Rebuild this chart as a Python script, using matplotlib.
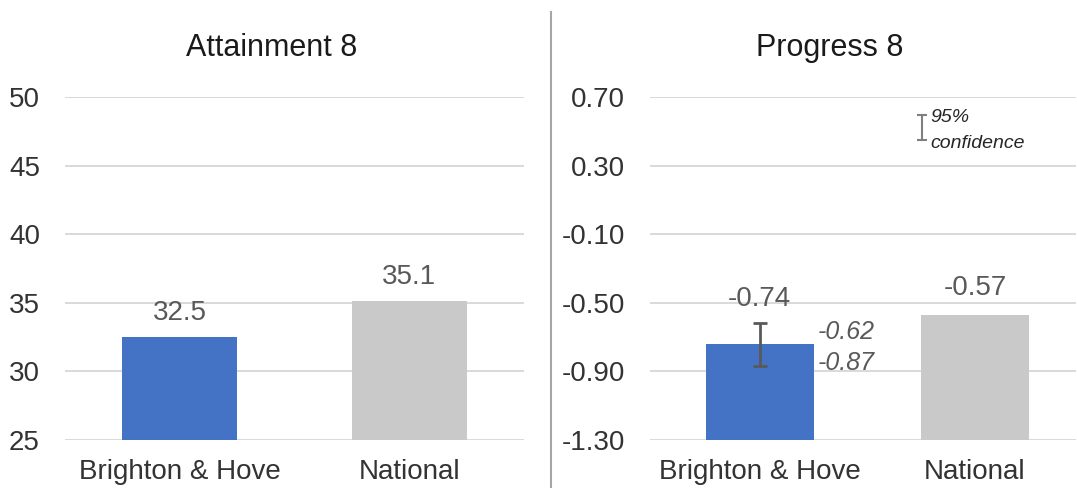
import matplotlib
matplotlib.use("Agg")
import matplotlib.pyplot as plt
from matplotlib.lines import Line2D

plt.rcParams['font.family'] = ['Liberation Sans', 'DejaVu Sans']

# data
areas = ['Brighton & Hove', 'National']
attainment = [32.5, 35.1]
progress = [-0.74, -0.57]
progress_lo = [-0.87, None]
progress_hi = [-0.62, None]

att_ticks = [25, 30, 35, 40, 45, 50]
prog_ticks = [-1.30, -0.90, -0.50, -0.10, 0.30, 0.70]

blue = '#4472C4'
grey = '#C9C9C9'
txt = '#333333'
lab = '#595959'

fig = plt.figure(figsize=(10.77, 4.88), dpi=100)

ax1 = fig.add_axes([65 / 1077, 48 / 488, 459 / 1077, 343 / 488])
ax2 = fig.add_axes([650 / 1077, 48 / 488, 426 / 1077, 343 / 488])

for ax in (ax1, ax2):
    for s in ax.spines.values():
        s.set_visible(False)
    ax.grid(axis='y', color='#D9D9D9', linewidth=1.4)
    ax.set_axisbelow(True)
    ax.tick_params(axis='both', length=0, labelsize=20, colors=txt)
    ax.tick_params(axis='y', pad=18)
    ax.tick_params(axis='x', pad=14)

################ Attainment 8
x = range(len(areas))
ax1.bar(x, attainment, width=0.5, color=[blue, grey])
ax1.set_ylim(25, 50)
ax1.set_yticks(att_ticks)
ax1.set_xlim(-0.5, 1.5)
ax1.set_xticks(list(x))
ax1.set_xticklabels(areas)
for i, v in enumerate(attainment):
    ax1.annotate('%.1f' % v, (i, v), xytext=(0, 8), textcoords='offset points',
                 ha='center', va='bottom', fontsize=20, color=lab)

################ Progress 8
# bars start from the bottom of the axis (-1.30)
ax2.bar(x, [v + 1.30 for v in progress], width=0.5, color=[blue, grey], bottom=-1.30)
ax2.set_ylim(-1.30, 0.70)
ax2.set_yticks(prog_ticks)
ax2.set_yticklabels(['%.2f' % t for t in prog_ticks])
ax2.set_xlim(-0.51, 1.47)
ax2.set_xticks(list(x))
ax2.set_xticklabels(areas)

ax2.errorbar([0], [progress[0]],
             yerr=[[progress[0] - progress_lo[0]], [progress_hi[0] - progress[0]]],
             fmt='none', ecolor='#595959', elinewidth=2, capsize=5, capthick=2)

ax2.annotate('%.2f' % progress[0], (0, progress_hi[0]), xytext=(0, 8),
             textcoords='offset points', ha='center', va='bottom', fontsize=20, color=lab)
ax2.annotate('%.2f' % progress[1], (1, progress[1]), xytext=(0, 10),
             textcoords='offset points', ha='center', va='bottom', fontsize=20, color=lab)
ax2.annotate('%.2f' % progress_hi[0], (0.25, progress_hi[0]), xytext=(3, -6),
             textcoords='offset points', ha='left', va='center', fontsize=18,
             style='italic', color=lab)
ax2.annotate('%.2f' % progress_lo[0], (0.25, progress_lo[0]), xytext=(3, 2),
             textcoords='offset points', ha='left', va='center', fontsize=18,
             style='italic', color=lab)

# confidence key
ax2.plot([0.638, 0.638], [0.875, 0.948], transform=ax2.transAxes, color='#7F7F7F',
         lw=1.5, clip_on=False)
ax2.plot([0.638, 0.638], [0.875, 0.948], transform=ax2.transAxes, color='#7F7F7F',
         lw=0, marker='_', ms=7, mew=1.5, clip_on=False)
ax2.text(0.658, 0.94, '95%', transform=ax2.transAxes, fontsize=14, style='italic',
         va='center', ha='left', color='#262626')
ax2.text(0.658, 0.865, 'confidence', transform=ax2.transAxes, fontsize=14, style='italic',
         va='center', ha='left', color='#262626')

fig.text(272 / 1077, 1 - 48 / 488, 'Attainment 8', ha='center', va='center',
         fontsize=22, color='#1A1A1A')
fig.text(830 / 1077, 1 - 48 / 488, 'Progress 8', ha='center', va='center',
         fontsize=22, color='#1A1A1A')

fig.add_artist(Line2D([551 / 1077, 551 / 1077], [0, 1 - 12 / 488], color='#A6A6A6', lw=1.5))

fig.savefig('out.png', dpi=100)
